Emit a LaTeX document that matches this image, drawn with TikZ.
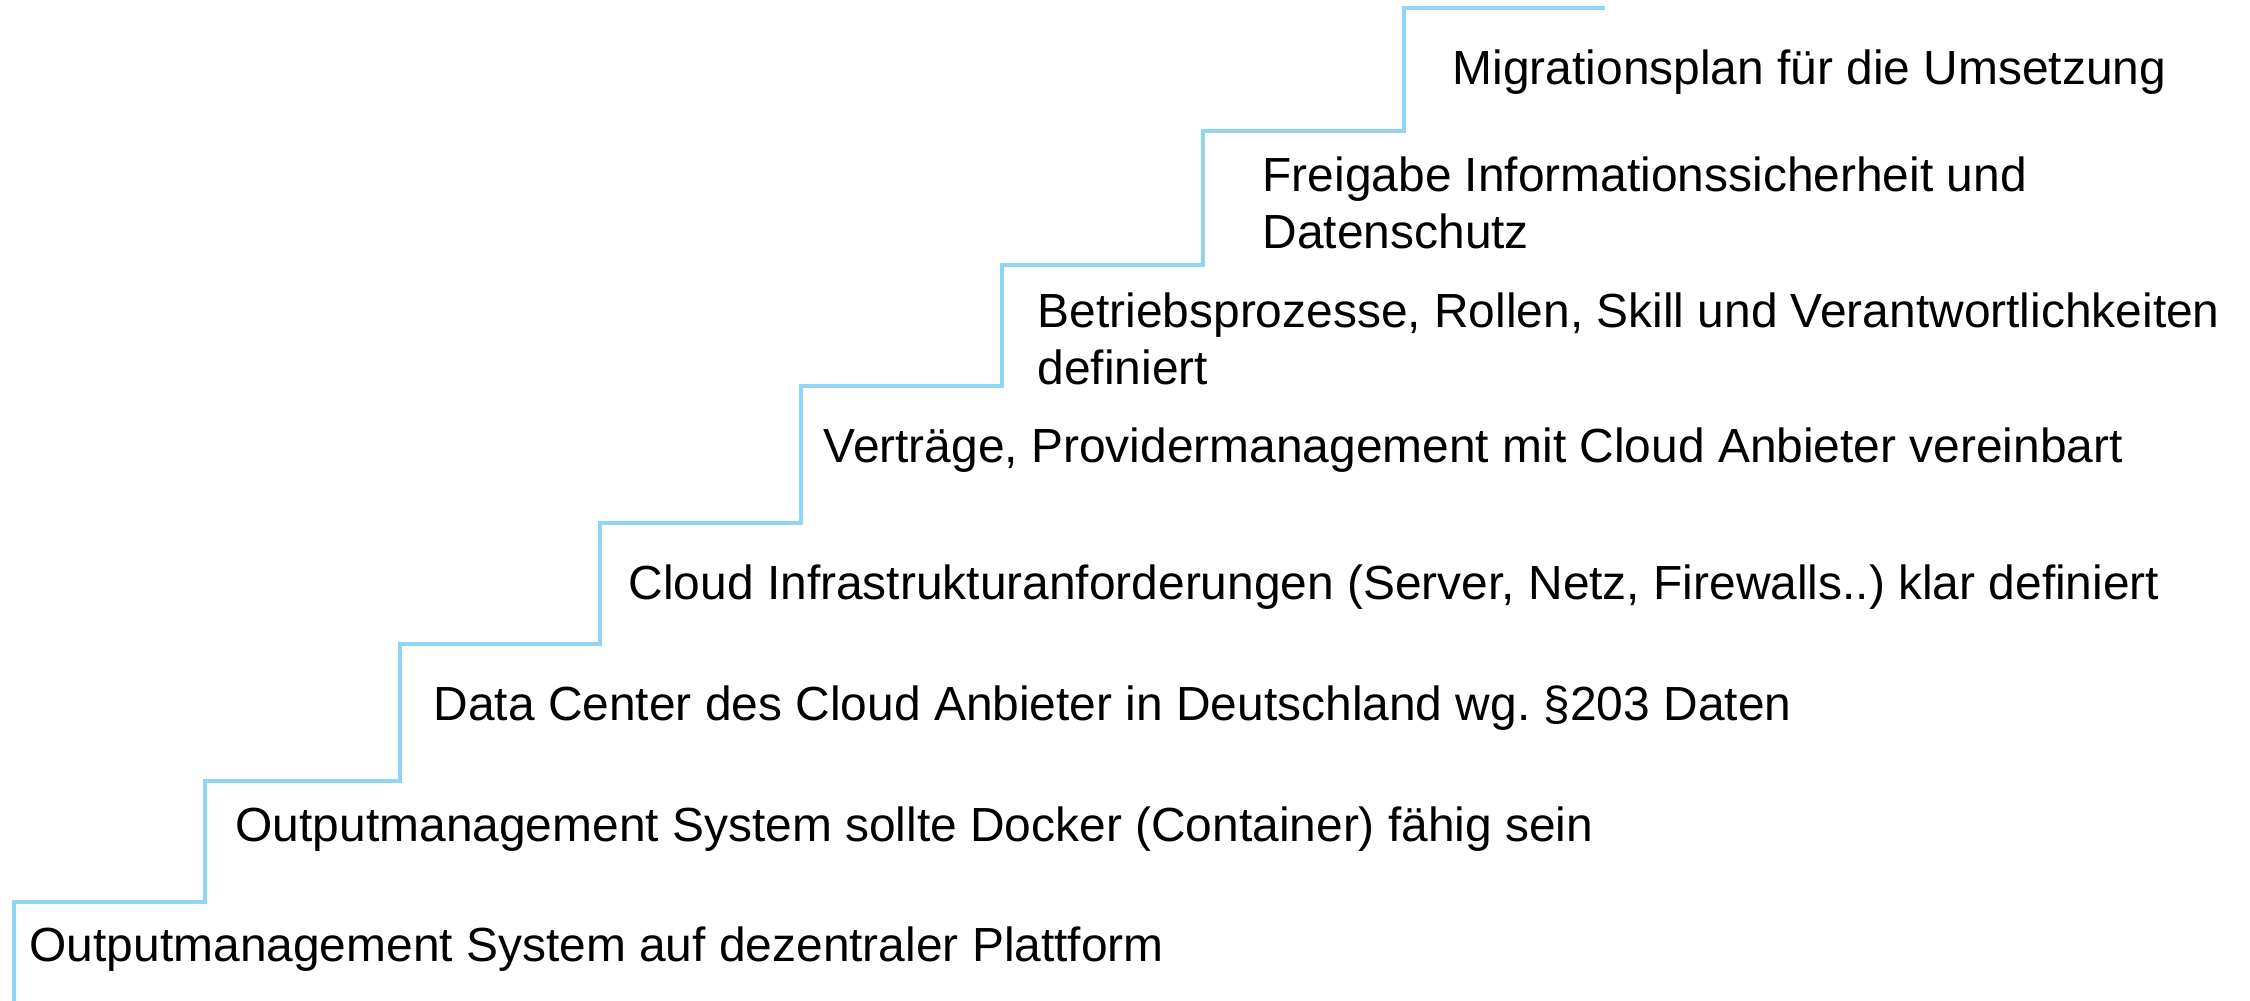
\documentclass[tikz,border=0pt]{standalone}
\usepackage{fontspec}
\setmainfont{Liberation Sans}
\frenchspacing
\definecolor{stairblue}{RGB}{143,214,245}
\tikzset{
  stair/.style={draw=stairblue, line width=1.35pt},
  steplabel/.style={anchor=base west, inner sep=0pt, align=left, text=black,
    font=\fontsize{13.62}{16.4}\selectfont}
}
\begin{document}
\begin{tikzpicture}[x=0.01cm,y=-0.01cm]
\useasboundingbox (0,0) rectangle (2250,1001);
\draw[stair] (14,1003) -- (14,902) -- (205,902) -- (205,781) -- (400,781)
  -- (400,644) -- (600,644) -- (600,523) -- (801,523) -- (801,386)
  -- (1002,386) -- (1002,265) -- (1203,265) -- (1203,131) -- (1404,131)
  -- (1404,8) -- (1605,8);
\node[steplabel] (s1) at (29,962) {Outputmanagement System auf dezentraler Plattform};
\node[steplabel] (s2) at (235,842) {Outputmanagement System sollte Docker (Container) fähig sein};
\node[steplabel] (s3) at (433,721) {Data Center des Cloud Anbieter in Deutschland wg. §203 Daten};
\node[steplabel] (s4) at (628,600) {Cloud Infrastrukturanforderungen (Server, Netz, Firewalls..) klar definiert};
\node[steplabel] (s5) at (823,463) {Verträge, Providermanagement mit Cloud Anbieter vereinbart};
\node[steplabel] (s6) at (1037,385) {Betriebsprozesse, Rollen, Skill und Verantwortlichkeiten\\definiert};
\node[steplabel] (s7) at (1262,249) {Freigabe Informationssicherheit und\\Datenschutz};
\node[steplabel] (s8) at (1452,85) {Migrationsplan für die Umsetzung};
\end{tikzpicture}
\end{document}
